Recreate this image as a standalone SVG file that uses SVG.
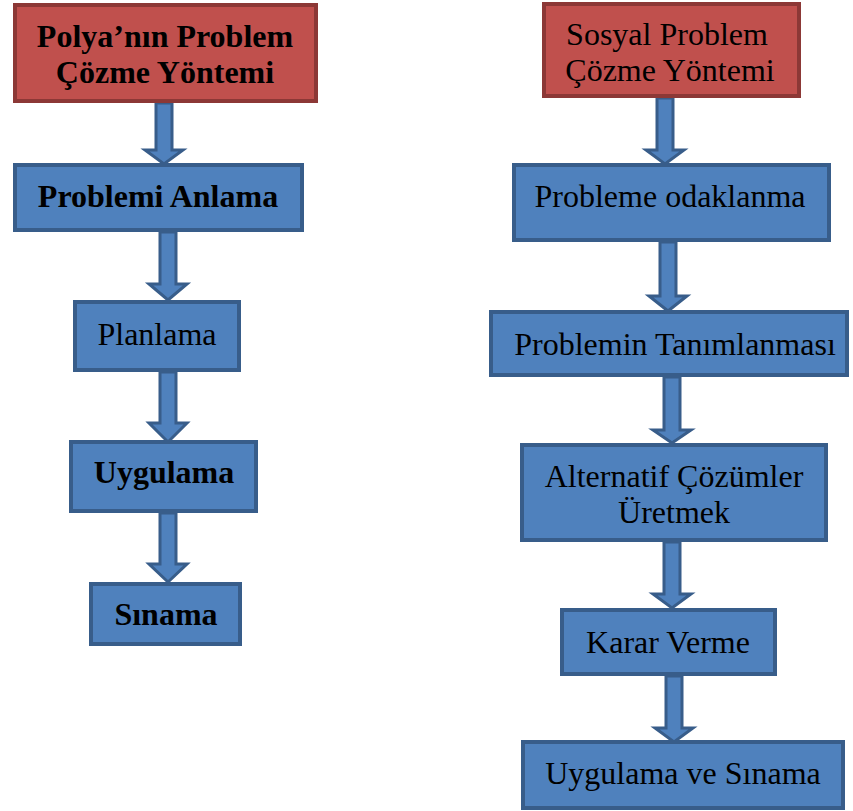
<svg xmlns="http://www.w3.org/2000/svg" width="853" height="811" viewBox="0 0 853 811">
<style>
.red{fill:#C0504D;stroke:#8C3836;stroke-width:4}
.blue{fill:#4F81BD;stroke:#385D8A;stroke-width:4}
.arr{fill:#4F81BD;stroke:#385D8A;stroke-width:3;stroke-linejoin:miter}
text{font-family:"Liberation Serif","Times New Roman",serif;font-size:32px;fill:#000;text-anchor:middle}
.b{font-weight:bold}
</style>
<rect width="853" height="811" fill="#fff"/>
<g id="connectors">
<polygon class="arr" points="156,103 172,103 172,150 183,150 164,164 145,150 156,150"/>
<polygon class="arr" points="160,232 176,232 176,284 187,284 168,300 149,284 160,284"/>
<polygon class="arr" points="160,372 176,372 176,423 187,423 168,442 149,423 160,423"/>
<polygon class="arr" points="160,513 176,513 176,564 187,564 168,582 149,564 160,564"/>
<polygon class="arr" points="657,98 673,98 673,150 684,150 665,164 646,150 657,150"/>
<polygon class="arr" points="660,242 676,242 676,296 687,296 668,311 649,296 660,296"/>
<polygon class="arr" points="664,377 680,377 680,430 691,430 672,443 653,430 664,430"/>
<polygon class="arr" points="664,542 680,542 680,594 691,594 672,608 653,594 664,594"/>
<polygon class="arr" points="666,676 682,676 682,728 693,728 674,742 655,728 666,728"/>
</g>
<g id="polya">
<rect class="red" x="15" y="5" width="301" height="96"/>
<text class="b" x="165" y="47">Polya’nın Problem</text>
<text class="b" x="165" y="83">Çözme Yöntemi</text>
</g>
<g id="anlama">
<rect class="blue" x="15" y="165" width="287" height="65"/>
<text class="b" x="158" y="207">Problemi Anlama</text>
</g>
<g id="planlama">
<rect class="blue" x="75" y="302" width="164" height="68"/>
<text x="157" y="345">Planlama</text>
</g>
<g id="uygulama">
<rect class="blue" x="71" y="442" width="185" height="69"/>
<text class="b" x="164" y="483">Uygulama</text>
</g>
<g id="sinama">
<rect class="blue" x="91" y="584" width="149" height="60"/>
<text class="b" x="166" y="625">Sınama</text>
</g>
<g id="sosyal">
<rect class="red" x="544" y="4" width="255" height="92"/>
<text x="667" y="45">Sosyal Problem</text>
<text x="670" y="81">Çözme Yöntemi</text>
</g>
<g id="odaklanma">
<rect class="blue" x="514" y="165" width="315" height="75"/>
<text x="670" y="207">Probleme odaklanma</text>
</g>
<g id="tanimlanmasi">
<rect class="blue" x="491" y="312" width="356" height="63"/>
<text x="675" y="355">Problemin Tanımlanması</text>
</g>
<g id="alternatif">
<rect class="blue" x="522" y="445" width="304" height="95"/>
<text x="674" y="487">Alternatif Çözümler</text>
<text x="674" y="523">Üretmek</text>
</g>
<g id="karar">
<rect class="blue" x="562" y="610" width="213" height="64"/>
<text x="668" y="653">Karar Verme</text>
</g>
<g id="uygulamasinama">
<rect class="blue" x="523" y="742" width="320" height="66"/>
<text x="683" y="784">Uygulama ve Sınama</text>
</g>
</svg>
